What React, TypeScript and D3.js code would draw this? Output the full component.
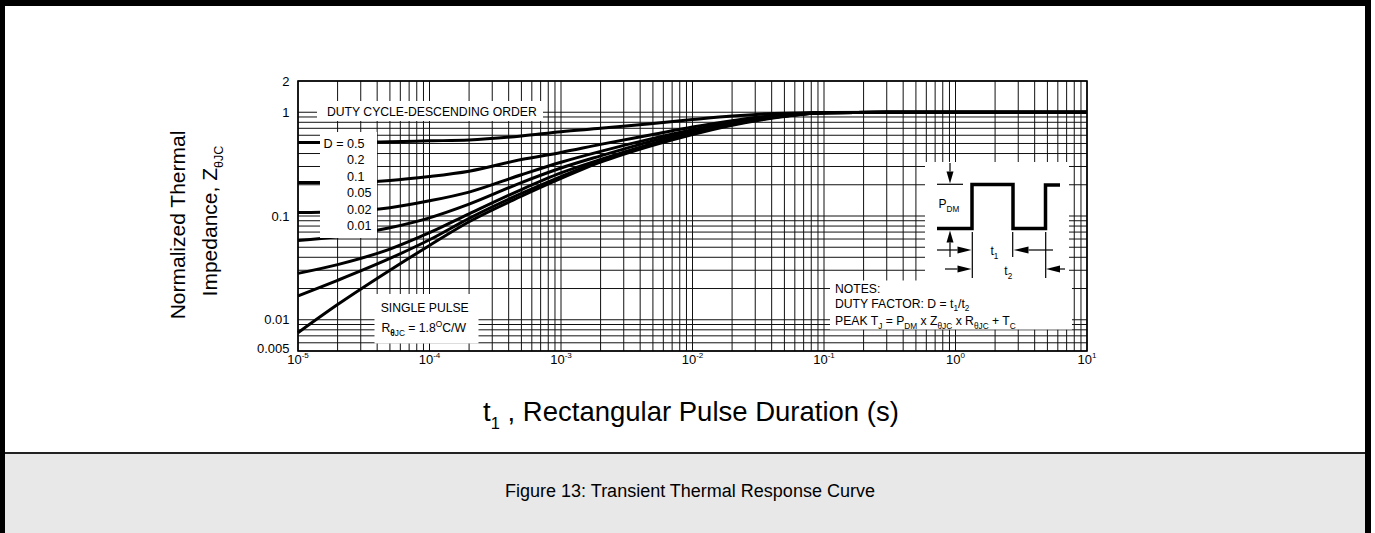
import React, { useRef, useEffect } from 'react';
import * as d3 from 'd3';

const pulseTimes = [1e-5, 2e-5, 5e-5, 1e-4, 2e-4, 5e-4, 1e-3, 2e-3, 5e-3, 1e-2, 2e-2, 5e-2, 0.1, 0.3, 1, 10];

// normalized Z(theta)JC per duty cycle
const zDuty05 = [0.51, 0.51, 0.52, 0.53, 0.54, 0.59, 0.65, 0.7, 0.78, 0.85, 0.92, 0.98, 0.99, 1, 1, 1];
const zDuty02 = [0.21, 0.21, 0.22, 0.24, 0.27, 0.35, 0.41, 0.49, 0.61, 0.72, 0.83, 0.95, 0.99, 1, 1, 1];
const zDuty01 = [0.108, 0.11, 0.12, 0.14, 0.17, 0.25, 0.33, 0.42, 0.56, 0.68, 0.8, 0.94, 0.99, 1, 1, 1];
const zDuty005 = [0.058, 0.063, 0.077, 0.096, 0.13, 0.21, 0.29, 0.38, 0.53, 0.66, 0.78, 0.93, 0.99, 1, 1, 1];
const zDuty002 = [0.028, 0.034, 0.048, 0.069, 0.105, 0.18, 0.26, 0.35, 0.5, 0.64, 0.77, 0.92, 0.99, 1, 1, 1];
const zDuty001 = [0.017, 0.024, 0.039, 0.059, 0.095, 0.165, 0.24, 0.34, 0.49, 0.62, 0.76, 0.92, 0.99, 1, 1, 1];
const zSingle = [0.0075, 0.014, 0.03, 0.052, 0.088, 0.155, 0.23, 0.33, 0.48, 0.61, 0.75, 0.91, 0.99, 1, 1, 1];

const dutyLabels = ['0.5', '0.2', '0.1', '0.05', '0.02', '0.01'];
const yTickValues = [2, 1, 0.1, 0.01, 0.005];
const yTickLabels = ['2', '1', '0.1', '0.01', '0.005'];
const xTickExponents = [-5, -4, -3, -2, -1, 0, 1];

const FONT = "'Liberation Sans', Arial, Helvetica, sans-serif";

type Part = { t: string; sub?: boolean; sup?: boolean; bold?: boolean };

// text with sub/superscript pieces
const richText = (g, x, y, parts: Part[], size = 12, anchor = 'start', small = 0.68) => {
  const txt = g
    .append('text')
    .attr('x', x)
    .attr('y', y)
    .attr('font-size', size)
    .attr('text-anchor', anchor)
    .attr('fill', '#000');
  let shift = 0;
  parts.forEach(p => {
    const target = p.sub ? size * 0.3 : p.sup ? -size * 0.42 : 0;
    const ts = txt.append('tspan').attr('dy', target - shift).text(p.t);
    if (p.sub || p.sup) ts.attr('font-size', size * small);
    if (p.bold) ts.attr('font-weight', 'bold');
    shift = target;
  });
  return txt;
};

const arrow = (g, x1, y1, x2, y2, head = 12, half = 3.5) => {
  const dx = x2 - x1;
  const dy = y2 - y1;
  const len = Math.sqrt(dx * dx + dy * dy);
  const ux = dx / len;
  const uy = dy / len;
  const bx = x2 - ux * head;
  const by = y2 - uy * head;
  g.append('line')
    .attr('x1', x1).attr('y1', y1).attr('x2', bx).attr('y2', by)
    .attr('stroke', '#000').attr('stroke-width', 1.2);
  g.append('path')
    .attr('d', `M${x2},${y2}L${bx - uy * half},${by + ux * half}L${bx + uy * half},${by - ux * half}Z`)
    .attr('fill', '#000');
};

const ThermalResponse = () => {
  const svgRef = useRef<SVGSVGElement>(null);

  useEffect(() => {
    const width = 1375;
    const height = 533;
    const plot = { left: 298, right: 1087, top: 81, bottom: 351 };

    const svg = d3.select(svgRef.current);
    svg.selectAll('*').remove();
    svg.attr('width', width).attr('height', height).style('font-family', FONT);

    // frame + caption band
    svg.append('rect').attr('width', width).attr('height', height).attr('fill', '#fff');
    svg.append('rect').attr('x', 0).attr('y', 454).attr('width', 1371).attr('height', 79).attr('fill', '#e8e8e8');
    svg.append('rect').attr('x', 0).attr('y', 452).attr('width', 1371).attr('height', 2).attr('fill', '#222');
    svg.append('rect').attr('x', 0).attr('y', 0).attr('width', 1371).attr('height', 6).attr('fill', '#000');
    svg.append('rect').attr('x', 0).attr('y', 0).attr('width', 5).attr('height', height).attr('fill', '#000');
    svg.append('rect').attr('x', 1365).attr('y', 0).attr('width', 6).attr('height', height).attr('fill', '#000');

    const x = d3.scaleLog().domain([1e-5, 10]).range([plot.left, plot.right]);
    const y = d3.scaleLog().domain([0.005, 2]).range([plot.bottom, plot.top]);

    const g = svg.append('g');

    // log grid
    g.append('g')
      .selectAll('line')
      .data(x.ticks())
      .join('line')
      .attr('x1', d => x(d)).attr('x2', d => x(d))
      .attr('y1', plot.top).attr('y2', plot.bottom)
      .attr('stroke', '#111').attr('stroke-width', 1);
    g.append('g')
      .selectAll('line')
      .data(y.ticks())
      .join('line')
      .attr('x1', plot.left).attr('x2', plot.right)
      .attr('y1', d => y(d)).attr('y2', d => y(d))
      .attr('stroke', '#111').attr('stroke-width', 1);

    // curves
    const series = [zDuty05, zDuty02, zDuty01, zDuty005, zDuty002, zDuty001, zSingle];
    const line = d3
      .line<number>()
      .x((d, i) => x(pulseTimes[i]))
      .y(d => y(d))
      .curve(d3.curveMonotoneX);
    g.append('g')
      .selectAll('path')
      .data(series)
      .join('path')
      .attr('d', d => line(d))
      .attr('fill', 'none')
      .attr('stroke', '#000')
      .attr('stroke-width', 3)
      .attr('stroke-linejoin', 'round');

    g.append('rect')
      .attr('x', plot.left).attr('y', plot.top)
      .attr('width', plot.right - plot.left).attr('height', plot.bottom - plot.top)
      .attr('fill', 'none').attr('stroke', '#000').attr('stroke-width', 1.6);

    // white label boxes over the grid
    const boxes = [
      [317, 101, 226, 20],
      [320, 132, 57, 106],
      [374.5, 294, 104, 49.5],
      [925, 162, 144, 119],
      [830, 280.5, 242, 49],
    ];
    g.append('g')
      .selectAll('rect')
      .data(boxes)
      .join('rect')
      .attr('x', d => d[0]).attr('y', d => d[1])
      .attr('width', d => d[2]).attr('height', d => d[3])
      .attr('fill', '#fff');

    // y ticks
    g.append('g')
      .selectAll('text')
      .data(yTickValues)
      .join('text')
      .attr('x', 289.5)
      .attr('y', (d, i) => y(d) - (i === yTickValues.length - 1 ? 3 : 0))
      .attr('dy', '0.35em')
      .attr('text-anchor', 'end')
      .attr('font-size', 13)
      .text((d, i) => yTickLabels[i]);

    // x ticks 10^n
    xTickExponents.forEach(e => {
      richText(g, x(Math.pow(10, e)), 363.5, [{ t: '10' }, { t: String(e), sup: true }], 13, 'middle', 0.62);
    });

    // labels inside plot
    richText(g, 327, 115.8, [{ t: 'DUTY CYCLE-DESCENDING ORDER' }], 12.2);
    richText(g, 343.5, 147.8, [{ t: 'D =' }], 12.6, 'end');
    dutyLabels.forEach((lab, i) => {
      richText(g, 347, 147.8 + i * 16.5, [{ t: lab }], 12.6);
    });
    richText(g, 380.7, 311.6, [{ t: 'SINGLE PULSE' }], 12.2);
    richText(g, 381.5, 332.3, [
      { t: 'R' }, { t: 'θ', sub: true, bold: true }, { t: 'JC', sub: true },
      { t: ' = 1.8' }, { t: 'O', sup: true }, { t: 'C/W' },
    ], 12.2);

    // notes
    richText(g, 835, 293.3, [{ t: 'NOTES:' }], 12.2);
    richText(g, 835, 307.7, [
      { t: 'DUTY FACTOR: D = t' }, { t: '1', sub: true }, { t: '/t' }, { t: '2', sub: true },
    ], 12.2);
    richText(g, 835, 325, [
      { t: 'PEAK T' }, { t: 'J', sub: true }, { t: ' = P' }, { t: 'DM', sub: true },
      { t: ' x Z' }, { t: 'θJC', sub: true }, { t: ' x R' }, { t: 'θJC', sub: true },
      { t: ' + T' }, { t: 'C', sub: true },
    ], 12.2);

    // pulse diagram
    const pd = g.append('g');
    pd.append('path')
      .attr('d', 'M937,228.5H972V184.5H1013V228.5H1045.5V185H1060')
      .attr('fill', 'none').attr('stroke', '#000').attr('stroke-width', 3.5);
    pd.append('line').attr('x1', 937).attr('x2', 963).attr('y1', 184.3).attr('y2', 184.3)
      .attr('stroke', '#000').attr('stroke-width', 1.2);
    [[972.3, 278], [1012.7, 257], [1045.7, 278]].forEach(([lx, ly]) => {
      pd.append('line').attr('x1', lx).attr('x2', lx).attr('y1', 232).attr('y2', ly)
        .attr('stroke', '#000').attr('stroke-width', 1.2);
    });
    arrow(pd, 950, 163, 950, 183.5, 12, 3.5);
    arrow(pd, 950, 257, 950, 230.5, 12, 3.5);
    arrow(pd, 937, 250, 971.5, 250, 14, 3.5);
    arrow(pd, 1053, 250, 1013.5, 250, 15, 3.5);
    arrow(pd, 945, 269, 971.5, 269, 14, 3.5);
    arrow(pd, 1065, 269, 1046, 269, 14, 3.5);
    richText(pd, 938.5, 208, [{ t: 'P' }, { t: 'DM', sub: true }], 12);
    richText(pd, 990.5, 255, [{ t: 't' }, { t: '1', sub: true }], 12);
    richText(pd, 1004.3, 275, [{ t: 't' }, { t: '2', sub: true }], 12);

    // axis titles
    richText(svg, 691, 421, [{ t: 't' }, { t: '1', sub: true }, { t: ' , Rectangular Pulse Duration (s)' }], 27.5, 'middle', 0.6);
    richText(svg, 0, 0, [{ t: 'Normalized Thermal' }], 21, 'middle')
      .attr('transform', 'translate(185,225) rotate(-90)');
    richText(svg, 0, 0, [{ t: 'Impedance, Z' }, { t: 'θJC', sub: true }], 21, 'middle', 0.6)
      .attr('transform', 'translate(217,221) rotate(-90)');

    // caption
    richText(svg, 690, 496.5, [{ t: 'Figure 13: Transient Thermal Response Curve' }], 18, 'middle');
  }, []);

  return <svg ref={svgRef} style={{ position: 'absolute', left: 0, top: 0, display: 'block' }} />;
};

export default function App() {
  return <ThermalResponse />;
}
